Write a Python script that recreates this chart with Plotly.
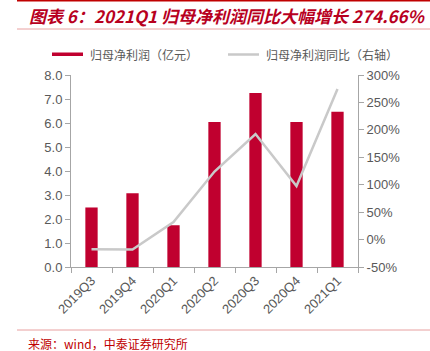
import plotly.graph_objects as go

categories = ["2019Q3", "2019Q4", "2020Q1", "2020Q2", "2020Q3", "2020Q4", "2021Q1"]
profit = [2.48, 3.07, 1.74, 6.04, 7.25, 6.04, 6.47]
yoy = [-17.5, -18.0, 32.0, 124.0, 192.5, 97.5, 274.66]
left_ticks = [0, 1, 2, 3, 4, 5, 6, 7, 8]
right_ticks = [-50, 0, 50, 100, 150, 200, 250, 300]

FONT = "Noto Sans CJK SC"
BAR_C = "#c0002f"
LINE_C = "#c9c9c9"
AX_C = "#a6a6a6"
TXT_C = "#595959"
RED_T = "#b8001e"

fig = go.Figure()
fig.add_trace(go.Bar(x=categories, y=profit, marker=dict(color=BAR_C, line=dict(width=0)),
                     width=0.3, name="归母净利润（亿元）", yaxis="y"))
fig.add_trace(go.Scatter(x=categories, y=yoy, mode="lines", line=dict(color=LINE_C, width=2.5),
                         name="归母净利润同比（右轴）", yaxis="y2"))

fig.update_layout(
    width=430, height=351,
    margin=dict(l=71, r=72, t=75, b=84),
    paper_bgcolor="white", plot_bgcolor="white",
    showlegend=False,
    font=dict(family="Liberation Sans, Arial", size=12, color=TXT_C),
    xaxis=dict(type="category", showline=True, linecolor=AX_C, linewidth=1,
               ticks="outside", tickson="boundaries", ticklen=5, tickcolor=AX_C,
               tickangle=-45, tickfont=dict(size=13, color=TXT_C), showgrid=False),
    yaxis=dict(range=[0, 8], tickvals=left_ticks, ticktext=[f"{v:.1f}" for v in left_ticks],
               showline=True, linecolor=AX_C, ticks="outside", ticklen=5, tickcolor=AX_C,
               showgrid=False, zeroline=False, tickfont=dict(size=13, color=TXT_C)),
    yaxis2=dict(range=[-50, 300], tickvals=right_ticks, ticktext=[f"{v}%" for v in right_ticks],
                overlaying="y", side="right", showline=True, linecolor=AX_C,
                ticks="outside", ticklen=5, tickcolor=AX_C, showgrid=False, zeroline=False,
                tickfont=dict(size=13, color=TXT_C)),
)

shapes = [
    dict(type="line", xref="paper", yref="paper", x0=-54/287, x1=(430-71)/287,
         y0=1+75/192, y1=1+75/192, line=dict(color="#c00000", width=3)),
    dict(type="line", xref="paper", yref="paper", x0=-54/287, x1=(430-71)/287,
         y0=1+(75-29)/192, y1=1+(75-29)/192, line=dict(color="#e8a0a0", width=1)),
    dict(type="line", xref="paper", yref="paper", x0=-54/287, x1=(430-71)/287,
         y0=-(330-267)/192, y1=-(330-267)/192, line=dict(color="#e8a0a0", width=1)),
    dict(type="rect", xref="paper", yref="paper", x0=(52-71)/287, x1=(83-71)/287,
         y0=1+(75-56)/192, y1=1+(75-52.5)/192, fillcolor=BAR_C, line=dict(width=0)),
    dict(type="line", xref="paper", yref="paper", x0=(228-71)/287, x1=(259-71)/287,
         y0=1+(75-54.5)/192, y1=1+(75-54.5)/192, line=dict(color=LINE_C, width=2.5)),
]
fig.update_layout(shapes=shapes)

fig.add_annotation(xref="paper", yref="paper", x=(27-71)/287, y=1+(75-15)/192,
                   xanchor="left", yanchor="middle", showarrow=False,
                   text="<b><i>图表 6：2021Q1 归母净利润同比大幅增长 274.66%</i></b>",
                   font=dict(family=FONT, size=17, color=RED_T))
fig.add_annotation(xref="paper", yref="paper", x=(88-71)/287, y=1+(75-54.5)/192,
                   xanchor="left", yanchor="middle", showarrow=False,
                   text="归母净利润（亿元）", font=dict(family=FONT, size=12, color=TXT_C))
fig.add_annotation(xref="paper", yref="paper", x=(264-71)/287, y=1+(75-54.5)/192,
                   xanchor="left", yanchor="middle", showarrow=False,
                   text="归母净利润同比（右轴）", font=dict(family=FONT, size=12, color=TXT_C))
fig.add_annotation(xref="paper", yref="paper", x=(26-71)/287, y=-(343-267)/192,
                   xanchor="left", yanchor="middle", showarrow=False,
                   text="来源：wind，中泰证券研究所", font=dict(family=FONT, size=12, color="#c00000"))

fig.write_html("out.html")
